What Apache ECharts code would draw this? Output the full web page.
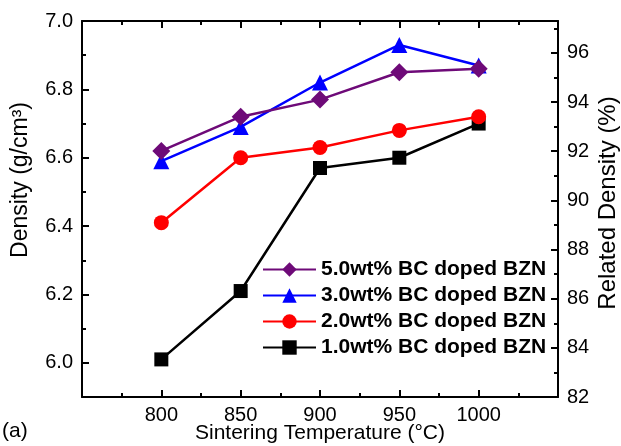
<!DOCTYPE html>
<html>
<head>
<meta charset="utf-8">
<script src="https://cdn.jsdelivr.net/npm/echarts@6/dist/echarts.min.js"></script>
<style>
html,body{margin:0;padding:0;background:#fff;}
#chart{width:621px;height:446px;}
</style>
</head>
<body>
<div id="chart"></div>
<script>
// ---- data ----
const temperatures = [800, 850, 900, 950, 1000];
const seriesNames = ['5.0wt% BC doped BZN', '3.0wt% BC doped BZN', '2.0wt% BC doped BZN', '1.0wt% BC doped BZN'];
const bc50 = [6.62, 6.72, 6.77, 6.85, 6.86];
const bc30 = [6.59, 6.69, 6.82, 6.93, 6.87];
const bc20 = [6.41, 6.60, 6.63, 6.68, 6.72];
const bc10 = [6.01, 6.21, 6.57, 6.60, 6.70];
const leftMajorTicks = [6.0, 6.2, 6.4, 6.6, 6.8, 7.0];
const leftMinorTicks = [5.9, 6.1, 6.3, 6.5, 6.7, 6.9];
const rightMajorTicks = [82, 84, 86, 88, 90, 92, 94, 96];
const rightMinorTicks = [83, 85, 87, 89, 91, 93, 95, 97];

const FONT = 'Liberation Sans, Arial, sans-serif';
const pairs = arr => temperatures.map((t, i) => [t, arr[i]]);

const axisLine = { show: true, onZero: false, lineStyle: { color: '#000', width: 2 } };

const chart = echarts.init(document.getElementById('chart'), null, { renderer: 'canvas' });

function mkSeries(name, data, color, symbol, size, z) {
  return {
    name, type: 'line', data: pairs(data), xAxisIndex: 0, yAxisIndex: 0,
    symbol, symbolSize: size, showSymbol: true, z,
    lineStyle: { color, width: 2.5 },
    itemStyle: { color, borderWidth: 0 },
    emphasis: { disabled: true },
    animation: false
  };
}

chart.setOption({
  animation: false,
  backgroundColor: '#fff',
  textStyle: { fontFamily: FONT },
  grid: { left: 82, right: 63, top: 21, bottom: 49, containLabel: false, outerBoundsMode: 'none' },
  legend: {
    data: seriesNames,
    orient: 'vertical',
    left: 257, top: 254,
    itemWidth: 53, itemHeight: 18, itemGap: 5,
    selectedMode: false,
    z: 10,
    textStyle: { fontFamily: FONT, fontSize: 21, fontWeight: 'bold', color: '#000' }
  },
  xAxis: [
    {
      type: 'value', position: 'bottom', min: 750, max: 1050, interval: 50,
      name: 'Sintering Temperature (°C)', nameLocation: 'middle', nameGap: 26, nameMoveOverlap: false,
      nameTextStyle: { fontFamily: FONT, fontSize: 21, color: '#000' },
      axisLine,
      axisTick: { show: true, inside: true, length: 7, lineStyle: { color: '#000', width: 2 } },
      minorTick: { show: true, splitNumber: 2, length: 4, lineStyle: { color: '#000', width: 2 } },
      axisLabel: { fontFamily: FONT, fontSize: 20, color: '#000', margin: 8, showMinLabel: false, showMaxLabel: false, formatter: v => String(v) },
      splitLine: { show: false }
    },
    {
      type: 'value', position: 'top', min: 750, max: 1050, interval: 50,
      axisLine,
      axisTick: { show: true, inside: true, length: 7, lineStyle: { color: '#000', width: 2 } },
      minorTick: { show: true, splitNumber: 2, length: 4, lineStyle: { color: '#000', width: 2 } },
      axisLabel: { show: false },
      splitLine: { show: false }
    }
  ],
  yAxis: [
    {
      type: 'value', position: 'left', min: 5.9, max: 7.0,
      name: 'Density (g/cm³)', nameLocation: 'middle', nameGap: 50, nameMoveOverlap: false,
      nameTextStyle: { fontFamily: FONT, fontSize: 23, color: '#000', padding: [0, 0, 0, 58] },
      axisLine,
      axisTick: { show: true, inside: true, length: 7, customValues: leftMajorTicks, lineStyle: { color: '#000', width: 2 } },
      axisLabel: { fontFamily: FONT, fontSize: 20, color: '#000', margin: 9, customValues: leftMajorTicks, formatter: v => v.toFixed(1) },
      splitLine: { show: false }
    },
    {
      type: 'value', position: 'right', min: 82, max: 97.3,
      name: 'Related Density (%)', nameLocation: 'middle', nameGap: 38, nameMoveOverlap: false,
      nameTextStyle: { fontFamily: FONT, fontSize: 24, color: '#000', padding: [0, 0, 0, 12] },
      axisLine,
      axisTick: { show: true, inside: true, length: 7, customValues: rightMajorTicks, lineStyle: { color: '#000', width: 2 } },
      axisLabel: { fontFamily: FONT, fontSize: 20, color: '#000', margin: 9, customValues: rightMajorTicks, formatter: v => String(Math.round(v)) },
      splitLine: { show: false }
    },
    {
      type: 'value', position: 'left', min: 5.9, max: 7.0,
      axisLine: { show: false },
      axisTick: { show: true, inside: true, length: 4, customValues: leftMinorTicks, lineStyle: { color: '#000', width: 2 } },
      axisLabel: { show: false },
      splitLine: { show: false }
    },
    {
      type: 'value', position: 'right', min: 82, max: 97.3,
      axisLine: { show: false },
      axisTick: { show: true, inside: true, length: 4, customValues: rightMinorTicks, lineStyle: { color: '#000', width: 2 } },
      axisLabel: { show: false },
      splitLine: { show: false }
    }
  ],
  graphic: [
    { type: 'text', left: 2, top: 421, style: { text: '(a)', fontFamily: FONT, fontSize: 21, fill: '#000' } }
  ],
  series: [
    mkSeries(seriesNames[3], bc10, '#000000', 'rect', 14, 2),
    mkSeries(seriesNames[2], bc20, '#FF0000', 'circle', 15, 3),
    mkSeries(seriesNames[1], bc30, '#0000FF', 'triangle', 16, 4),
    mkSeries(seriesNames[0], bc50, '#6E0A78', 'diamond', 18, 5)
  ]
});
</script>
</body>
</html>
